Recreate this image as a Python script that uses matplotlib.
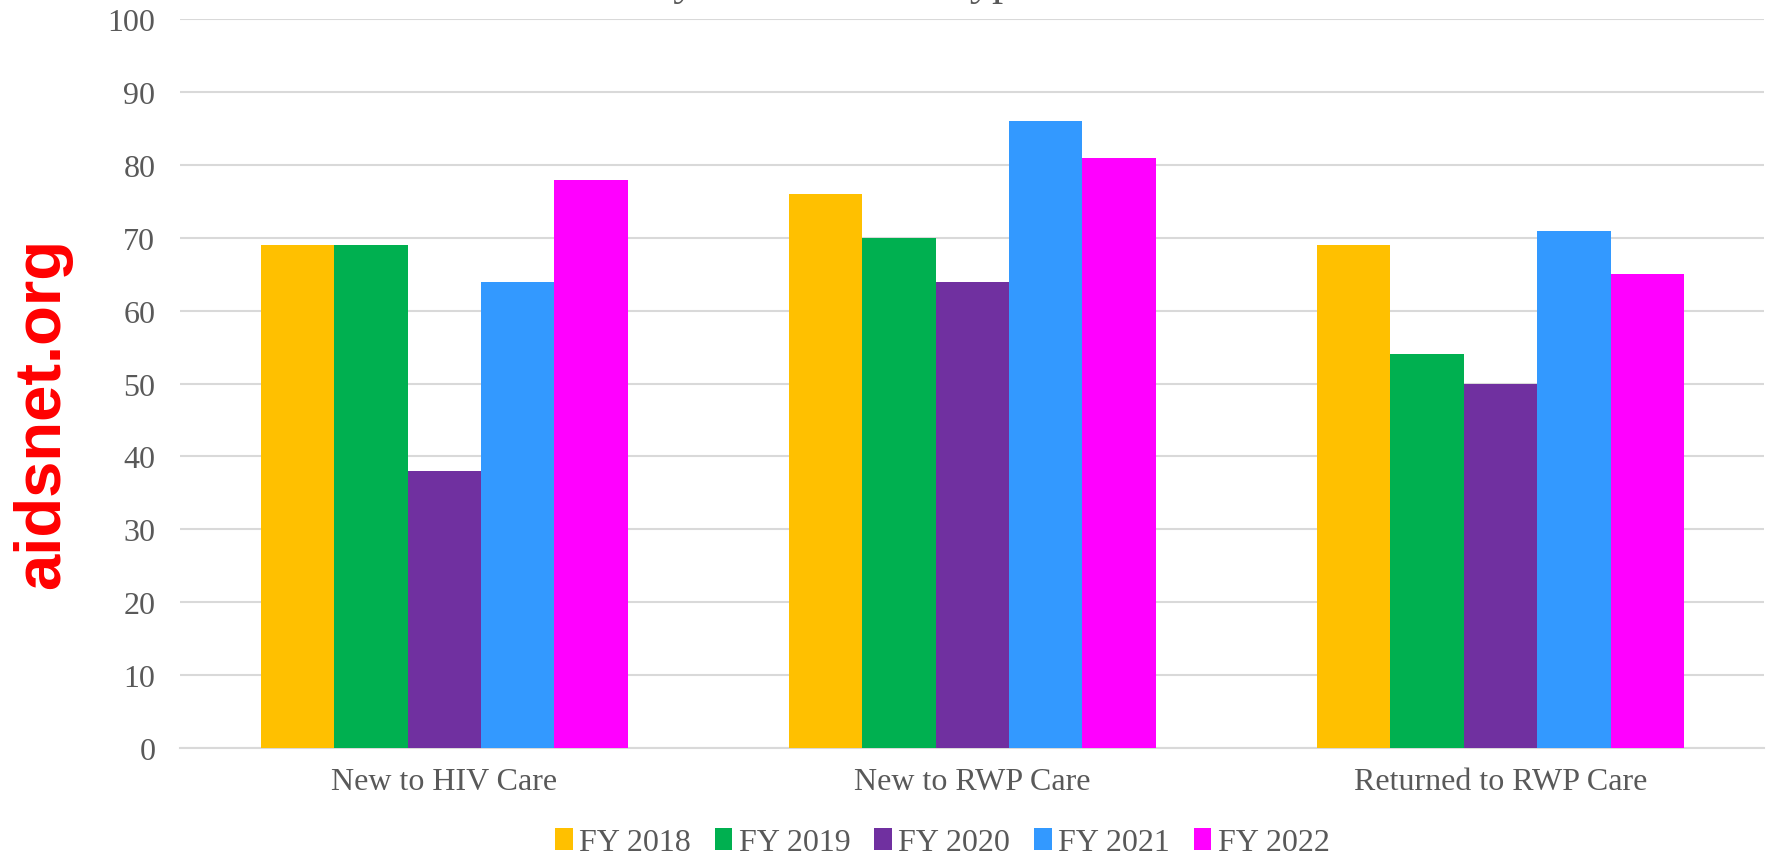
import matplotlib.pyplot as plt
import numpy as np

# Categories and series values
categories = ["New to HIV Care", "New to RWP Care", "Returned to RWP Care"]
years = ["FY 2018", "FY 2019", "FY 2020", "FY 2021", "FY 2022"]
fy2018 = [69, 76, 69]
fy2019 = [69, 70, 54]
fy2020 = [38, 64, 50]
fy2021 = [64, 86, 71]
fy2022 = [78, 81, 65]
series = [fy2018, fy2019, fy2020, fy2021, fy2022]
colors = ["#FFC000", "#00B050", "#7030A0", "#3399FF", "#FF00FF"]
yticks = list(range(0, 101, 10))

plt.rcParams['font.family'] = ['Liberation Serif', 'DejaVu Serif']

fig = plt.figure(figsize=(17.68, 8.62), dpi=100)
ax = fig.add_axes([0.102, 0.1314, 0.896, 0.845])

x = np.arange(len(categories))
width = 0.139
for i, (vals, lab, col) in enumerate(zip(series, years, colors)):
    ax.bar(x + (i - 2) * width, vals, width, color=col, label=lab, zorder=3)

ax.set_xlim(-0.5, 2.5)
ax.set_ylim(0, 100)
ax.set_yticks(yticks)
ax.set_xticks(x)
ax.set_xticklabels(categories)
ax.yaxis.grid(True, color="#D9D9D9", linewidth=1.5, zorder=0)
for s in ["top", "right", "left"]:
    ax.spines[s].set_visible(False)
ax.spines["bottom"].set_color("#D9D9D9")
ax.spines["bottom"].set_linewidth(1.5)
ax.tick_params(axis="both", length=0, labelsize=23, labelcolor="#595959")
ax.tick_params(axis="x", pad=14)
ax.tick_params(axis="y", pad=18)

ax.legend(loc="lower center", bbox_to_anchor=(0.481, -0.19), ncol=5, frameon=False,
          fontsize=23, labelcolor="#595959", handlelength=0.55, handleheight=0.7,
          handletextpad=0.2, columnspacing=0.75)

# title mostly cut off by the top edge
fig.text(326 / 1768, 1 + 5 / 862, "Retention in Care by Client Status Type",
         fontsize=32, color="#595959", ha="left", va="baseline")

# watermark
fig.text(0.024, 0.52, "aidsnet.org", rotation=90, color="#FF0000", fontsize=47,
         fontweight="bold", family=["Liberation Sans", "DejaVu Sans"],
         ha="center", va="center")

fig.savefig("out.png", dpi=100)
